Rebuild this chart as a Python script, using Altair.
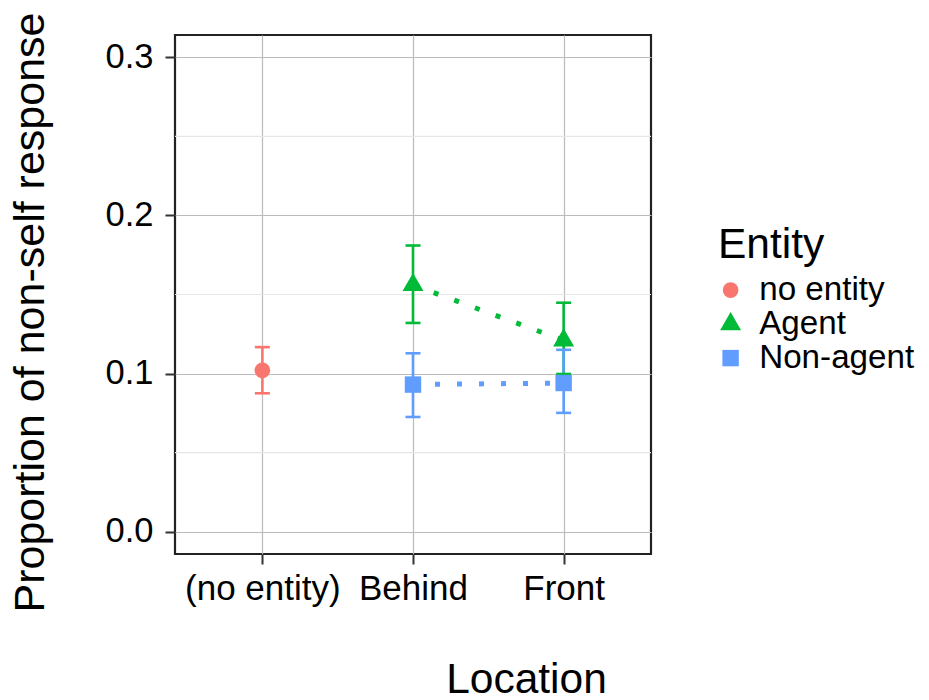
import altair as alt
import pandas as pd

# ---- data ----
locations = ["(no entity)", "Behind", "Behind", "Front", "Front"]
entities = ["no entity", "Agent", "Non-agent", "Agent", "Non-agent"]
means = [0.102, 0.156, 0.093, 0.121, 0.094]
lowers = [0.0875, 0.132, 0.0725, 0.0997, 0.0751]
uppers = [0.1167, 0.181, 0.1128, 0.1448, 0.1150]

location_order = ["(no entity)", "Behind", "Front"]
entity_order = ["no entity", "Agent", "Non-agent"]
entity_colors = ["#F8766D", "#00BA38", "#619CFF"]
triangle = "M0,-1.155L1,0.577L-1,0.577Z"
entity_shapes = ["circle", triangle, "square"]
entity_sizes = [245, 440, 270]
y_ticks = [0.0, 0.1, 0.2, 0.3]
minor_ticks = [0.05, 0.15, 0.25]

color_of = dict(zip(entity_order, entity_colors))
df = pd.DataFrame(dict(Location=locations, Entity=entities, mean=means,
                       lower=lowers, upper=uppers))
df["col"] = df["Entity"].map(color_of)
minor_df = pd.DataFrame({"minor": minor_ticks})

FONT = "Liberation Sans"

x_scale = alt.Scale(type="point", padding=0.58, domain=location_order)
y_scale = alt.Scale(domain=[-0.0142, 0.3142], nice=False, zero=False)

x_axis = alt.Axis(title="Location", labelAngle=0, labelFontSize=35, labelFont=FONT,
                  labelColor="black", tickSize=10, tickWidth=2, tickColor="#333333",
                  labelPadding=7, domain=False, grid=True, gridColor="#BBBBBB",
                  gridWidth=1.2, titleFontSize=42.5, titleFont=FONT,
                  titleFontWeight="normal", titleColor="black",
                  titleBaseline="alphabetic", titleAlign="center", titleX=351, titleY=138)
y_axis = alt.Axis(title="Proportion of non-self response", values=y_ticks, format=".1f",
                  labelFontSize=34.5, labelFont=FONT, labelColor="black", tickSize=10,
                  tickWidth=2, tickColor="#333333", labelPadding=12, domain=False,
                  grid=True, gridColor="#BBBBBB", gridWidth=1.2, titleFontSize=43,
                  titleFont=FONT, titleFontWeight="normal", titleColor="black",
                  titleAngle=270, titleAlign="center", titleBaseline="alphabetic",
                  titleX=-132, titleY=277)

legend = alt.Legend(title="Entity", orient="none", legendX=543, legendY=189, padding=0,
                    titleFontSize=42.5, titleFont=FONT, titleFontWeight="normal",
                    titleColor="black", titlePadding=7, labelFontSize=33.2,
                    labelFont=FONT, labelColor="black", labelOffset=12, labelLimit=400,
                    symbolOffset=-4, rowPadding=0, symbolStrokeWidth=0,
                    symbolOpacity=1)

X = alt.X("Location:N", sort=location_order, scale=x_scale, axis=x_axis)
col_enc = alt.Color("col:N", scale=None)

base = alt.Chart(df)

minor = alt.Chart(minor_df).mark_rule(color="#E6E6E6", strokeWidth=1.2).encode(
    y=alt.Y("minor:Q", scale=y_scale, axis=y_axis)
)

bars = base.mark_rule(strokeWidth=2.6).encode(
    x=X,
    y=alt.Y("lower:Q", scale=y_scale, axis=y_axis),
    y2="upper:Q",
    color=col_enc,
)

cap_lo = base.mark_tick(thickness=2.6, size=15, opacity=1).encode(
    x=X, y=alt.Y("lower:Q", scale=y_scale, axis=y_axis), color=col_enc
)
cap_hi = base.mark_tick(thickness=2.6, size=15, opacity=1).encode(
    x=X, y=alt.Y("upper:Q", scale=y_scale, axis=y_axis), color=col_enc
)

lines = base.transform_filter(alt.datum.Entity != "no entity").mark_line(
    strokeDash=[5, 17], strokeWidth=5, strokeCap="butt"
).encode(
    x=X, y=alt.Y("mean:Q", scale=y_scale, axis=y_axis), color=col_enc,
    detail="Entity:N"
)

points = base.mark_point(filled=True, opacity=1, strokeWidth=0).encode(
    x=X,
    y=alt.Y("mean:Q", scale=y_scale, axis=y_axis),
    color=alt.Color("Entity:N", scale=alt.Scale(domain=entity_order, range=entity_colors),
                    legend=legend),
    shape=alt.Shape("Entity:N", scale=alt.Scale(domain=entity_order, range=entity_shapes),
                    legend=legend),
    size=alt.Size("Entity:N", scale=alt.Scale(type="ordinal", domain=entity_order,
                                              range=entity_sizes),
                  legend=legend),
)

chart = alt.layer(minor, lines, bars, cap_lo, cap_hi, points).properties(
    width=476, height=519,
    autosize=alt.AutoSizeParams(type="none"),
    padding={"left": 167, "top": 27, "right": 270, "bottom": 146},
).configure(font=FONT).configure_view(stroke="#222222", strokeWidth=2.2)

chart.save("out.html", embed_options={"renderer": "svg", "actions": False})
